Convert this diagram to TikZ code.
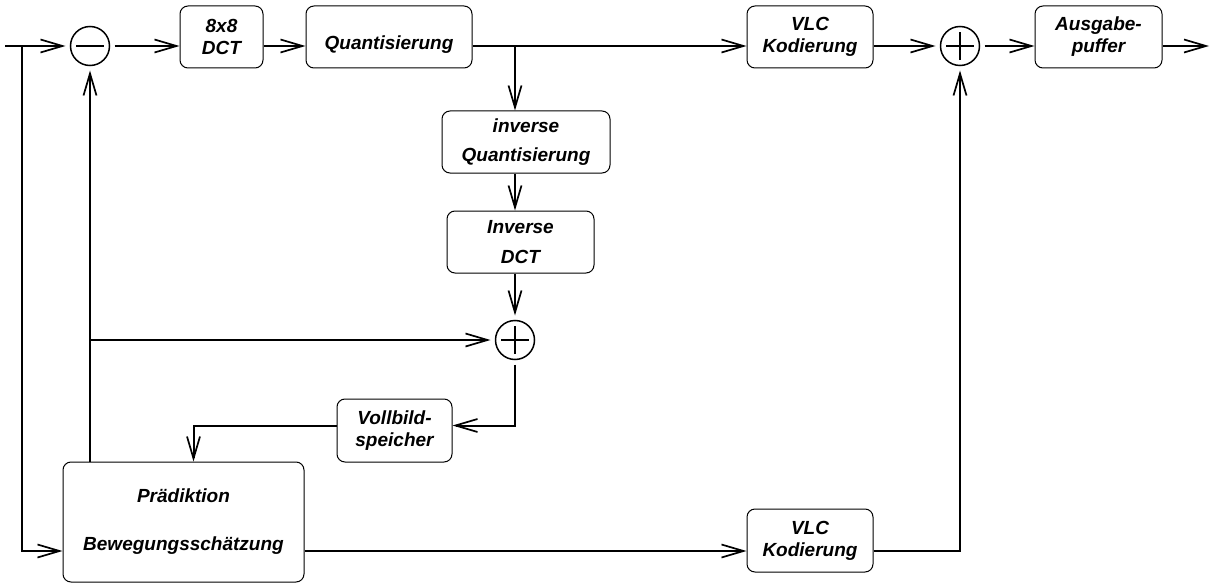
\documentclass[tikz,border=0pt]{standalone}
\usepackage{fontspec}
\setmainfont{Liberation Sans}
\usetikzlibrary{arrows.meta}
\begin{document}
\begin{tikzpicture}[x=1pt,y=-1pt,
  blk/.style={draw,line width=1pt,rounded corners=8pt,align=center,inner sep=0pt,
    font=\fontsize{19}{22}\selectfont\bfseries\itshape},
  sumc/.style={circle,draw,line width=1.5pt,minimum size=39pt,inner sep=0pt,outer sep=5pt},
  conn/.style={line width=2pt},
  arr/.style={conn,-{Straight Barb[length=22pt,width=13pt,line width=1.7pt]}},
  sign/.style={line width=1.6pt}]
\useasboundingbox (0,0) rectangle (1210,583);
% nodes
\node[sumc] (minus) at (90,46) {};
\node[sumc] (plusM) at (515,340) {};
\node[sumc] (plusR) at (960,46) {};
\node[blk,minimum width=83pt,minimum height=62pt] (dct) at (221.5,37) {8x8\\DCT};
\node[blk,minimum width=166pt,minimum height=62pt] (quant) at (389,37) {\raisebox{-8pt}[\height][\depth]{Quantisierung}};
\node[blk,minimum width=126pt,minimum height=62pt] (vlc1) at (810,37) {VLC\\Kodierung};
\node[blk,minimum width=127pt,minimum height=62pt] (aus) at (1098.5,37) {Ausgabe-\\puffer};
\node[blk,minimum width=168pt,minimum height=62pt] (iq) at (526,142) {inverse\\[7pt]Quantisierung};
\node[blk,minimum width=147pt,minimum height=62pt] (idct) at (520.5,242) {Inverse\\[8pt]DCT};
\node[blk,minimum width=115pt,minimum height=63pt] (voll) at (394.5,430.5) {Vollbild-\\speicher};
\node[blk,minimum width=241pt,minimum height=120pt] (pred) at (183.5,522) {Prädiktion\\[26pt]Bewegungsschätzung};
\node[blk,minimum width=126pt,minimum height=63pt] (vlc2) at (810,540.5) {VLC\\Kodierung};
% signs in circles
\draw[sign] ([xshift=-14pt]minus.center) -- ([xshift=14pt]minus.center);
\draw[sign] ([xshift=-14pt]plusM.center) -- ([xshift=14pt]plusM.center)
            ([yshift=-14pt]plusM.center) -- ([yshift=14pt]plusM.center);
\draw[sign] ([xshift=-14pt]plusR.center) -- ([xshift=14pt]plusR.center)
            ([yshift=-14pt]plusR.center) -- ([yshift=14pt]plusR.center);
% helper coordinates
\coordinate (in) at (5,46);
\coordinate (br) at (22,46);
\coordinate (out) at (1209,46);
\coordinate (b) at (0,551);
% connectors
\draw[arr] (in) -- (minus.west);
\draw[arr] (br) |- (pred.west |- b);
\draw[arr] (minus.east) -- (dct.west |- minus);
\draw[arr] (dct.east |- minus) -- (quant.west |- minus);
\draw[arr] (quant.east |- minus) -- (vlc1.west |- minus);
\draw[arr] (vlc1.east |- plusR) -- (plusR.west);
\draw[arr] (plusR.east) -- (aus.west |- plusR);
\draw[arr] (aus.east |- plusR) -- (out);
\draw[arr] (plusM |- minus) -- (plusM |- iq.north);
\draw[arr] (plusM |- iq.south) -- (plusM |- idct.north);
\draw[arr] (plusM |- idct.south) -- (plusM.north);
\draw[arr] (pred.north -| minus) -- (minus.south);
\draw[arr] (minus |- plusM) -- (plusM.west);
\draw[arr] (plusM.south) |- ([yshift=5pt]voll.east);
\draw[arr] ([yshift=5pt]voll.west) -| ([xshift=10pt]pred.north);
\draw[arr] (pred.east |- b) -- (vlc2.west |- b);
\draw[arr] (vlc2.east |- b) -| (plusR.south);
\end{tikzpicture}
\end{document}
